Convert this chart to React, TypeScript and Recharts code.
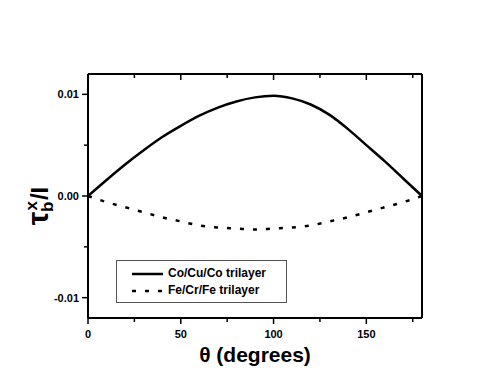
import { Legend, Line, LineChart, XAxis, YAxis } from "recharts";

// angle between magnetizations, degrees
const thetaDeg = [0, 10, 20, 30, 40, 50, 60, 70, 80, 90, 100, 110, 120, 130, 140, 150, 160, 170, 180];
const coCuCo = [0, 0.00158, 0.0031, 0.0045, 0.0058, 0.0069, 0.0079, 0.0087, 0.0093, 0.0097, 0.00985, 0.0096, 0.009, 0.008, 0.0066, 0.005, 0.0034, 0.0017, 0];
const feCrFe = [0, -0.0006, -0.0011, -0.0016, -0.0021, -0.0025, -0.0029, -0.0031, -0.0032, -0.0033, -0.0032, -0.0031, -0.0029, -0.0025, -0.0021, -0.0016, -0.0011, -0.0006, 0];

const xTicks = [0, 25, 50, 75, 100, 125, 150, 175];
const xMajor = [0, 50, 100, 150];
const yTicks = [-0.01, -0.005, 0, 0.005, 0.01];
const yMajor = [-0.01, 0, 0.01];

const seriesNames = ["Co/Cu/Co trilayer", "Fe/Cr/Fe trilayer"];
const seriesDash = ["", "4 9"];

const FONT = "'Liberation Sans', Arial, sans-serif";

const data = thetaDeg.map((t, i) => ({ theta: t, co: coCuCo[i], fe: feCrFe[i] }));

const isMajorY = (v: number) => yMajor.some((m) => Math.abs(m - v) < 1e-9);

function BottomTick(props: any) {
  const { x, y, payload } = props;
  const major = xMajor.includes(payload.value);
  return (
    <g>
      <line x1={x} y1={y} x2={x} y2={y + (major ? 6 : 4)} stroke="#000" strokeWidth={1.5} />
      {major && (
        <text x={x} y={y + 20} textAnchor="middle" fontFamily={FONT} fontWeight="bold" fontSize={11} fill="#000">
          {payload.value}
        </text>
      )}
    </g>
  );
}

function TopTick(props: any) {
  const { x, y, payload } = props;
  const major = xMajor.includes(payload.value);
  return <line x1={x} y1={y} x2={x} y2={y + (major ? 6 : 4)} stroke="#000" strokeWidth={1.5} />;
}

function LeftTick(props: any) {
  const { x, y, payload } = props;
  const major = isMajorY(payload.value);
  return (
    <g>
      <line x1={x} y1={y} x2={x - (major ? 6 : 4)} y2={y} stroke="#000" strokeWidth={1.5} />
      {major && (
        <text x={x - 9} y={y + 4} textAnchor="end" fontFamily={FONT} fontWeight="bold" fontSize={11} fill="#000">
          {payload.value.toFixed(2)}
        </text>
      )}
    </g>
  );
}

function RightTick(props: any) {
  const { x, y, payload } = props;
  const major = isMajorY(payload.value);
  return <line x1={x} y1={y} x2={x - (major ? 6 : 4)} y2={y} stroke="#000" strokeWidth={1.5} />;
}

function YTitle(props: any) {
  const { x, y, height } = props.viewBox;
  const cx = x + 20;
  const cy = y + height / 2 + 10;
  return (
    <text
      x={cx}
      y={cy}
      transform={`rotate(-90, ${cx}, ${cy})`}
      textAnchor="middle"
      fontFamily={FONT}
      fontWeight="bold"
      fontSize={24}
      fill="#000"
    >
      <tspan fontSize={30}>τ</tspan>
      <tspan fontSize={17} dy={5}>b</tspan>
      <tspan fontSize={17} dx={-9} dy={-16}>x</tspan>
      <tspan dx={1} dy={11}>/I</tspan>
    </text>
  );
}

function XTitle(props: any) {
  const { x, y, width } = props.viewBox;
  return (
    <text x={x + width / 2} y={y + 44} textAnchor="middle" fontFamily={FONT} fontWeight="bold" fontSize={21} fill="#000">
      θ (degrees)
    </text>
  );
}

function LegendBox() {
  return (
    <div
      style={{
        border: "1px solid #555",
        background: "#fff",
        padding: "4px 0 4px 15px",
        fontFamily: FONT,
        fontWeight: "bold",
        fontSize: 12,
        lineHeight: "17px",
        boxSizing: "border-box",
        width: 171,
        height: 43,
      }}
    >
      {seriesNames.map((name, i) => (
        <div key={name} style={{ display: "flex", alignItems: "center" }}>
          <svg width={36} height={10}>
            <line x1={0} y1={5} x2={31} y2={5} stroke="#000" strokeWidth={2.5} strokeDasharray={seriesDash[i] || undefined} />
          </svg>
          <span>{name}</span>
        </div>
      ))}
    </div>
  );
}

export default function App() {
  return (
    <div style={{ position: "absolute", left: 0, top: 0 }}>
      <LineChart width={491} height={375} data={data} margin={{ top: 73, right: 68, bottom: 17, left: 28 }}>
        <XAxis
          dataKey="theta"
          type="number"
          domain={[0, 180]}
          ticks={xTicks}
          interval={0}
          height={40}
          tickSize={0}
          tickMargin={0}
          tickLine={false}
          axisLine={{ stroke: "#000", strokeWidth: 2 }}
          tick={<BottomTick />}
          label={{ content: (p: any) => <XTitle {...p} /> }}
        />
        <XAxis
          xAxisId="top"
          orientation="top"
          dataKey="theta"
          type="number"
          domain={[0, 180]}
          ticks={xTicks}
          interval={0}
          height={1}
          tickSize={0}
          tickMargin={0}
          tickLine={false}
          axisLine={{ stroke: "#000", strokeWidth: 2 }}
          tick={<TopTick />}
        />
        <YAxis
          type="number"
          domain={[-0.012, 0.012]}
          ticks={yTicks}
          interval={0}
          width={60}
          tickSize={0}
          tickMargin={0}
          tickLine={false}
          axisLine={{ stroke: "#000", strokeWidth: 2 }}
          tick={<LeftTick />}
          label={{ content: (p: any) => <YTitle {...p} /> }}
        />
        <YAxis
          yAxisId="right"
          orientation="right"
          type="number"
          domain={[-0.012, 0.012]}
          ticks={yTicks}
          interval={0}
          width={1}
          tickSize={0}
          tickMargin={0}
          tickLine={false}
          axisLine={{ stroke: "#000", strokeWidth: 2 }}
          tick={<RightTick />}
        />
        <Line
          dataKey="co"
          name={seriesNames[0]}
          type="monotone"
          stroke="#000"
          strokeWidth={2.5}
          dot={false}
          isAnimationActive={false}
        />
        <Line
          dataKey="fe"
          name={seriesNames[1]}
          type="monotone"
          stroke="#000"
          strokeWidth={2.5}
          strokeDasharray={seriesDash[1]}
          dot={false}
          isAnimationActive={false}
        />
        <Legend
          layout="horizontal"
          verticalAlign="middle"
          align="center"
          wrapperStyle={{ left: 116, top: 260, width: 171, height: 43 }}
          content={() => <LegendBox />}
        />
      </LineChart>
    </div>
  );
}
